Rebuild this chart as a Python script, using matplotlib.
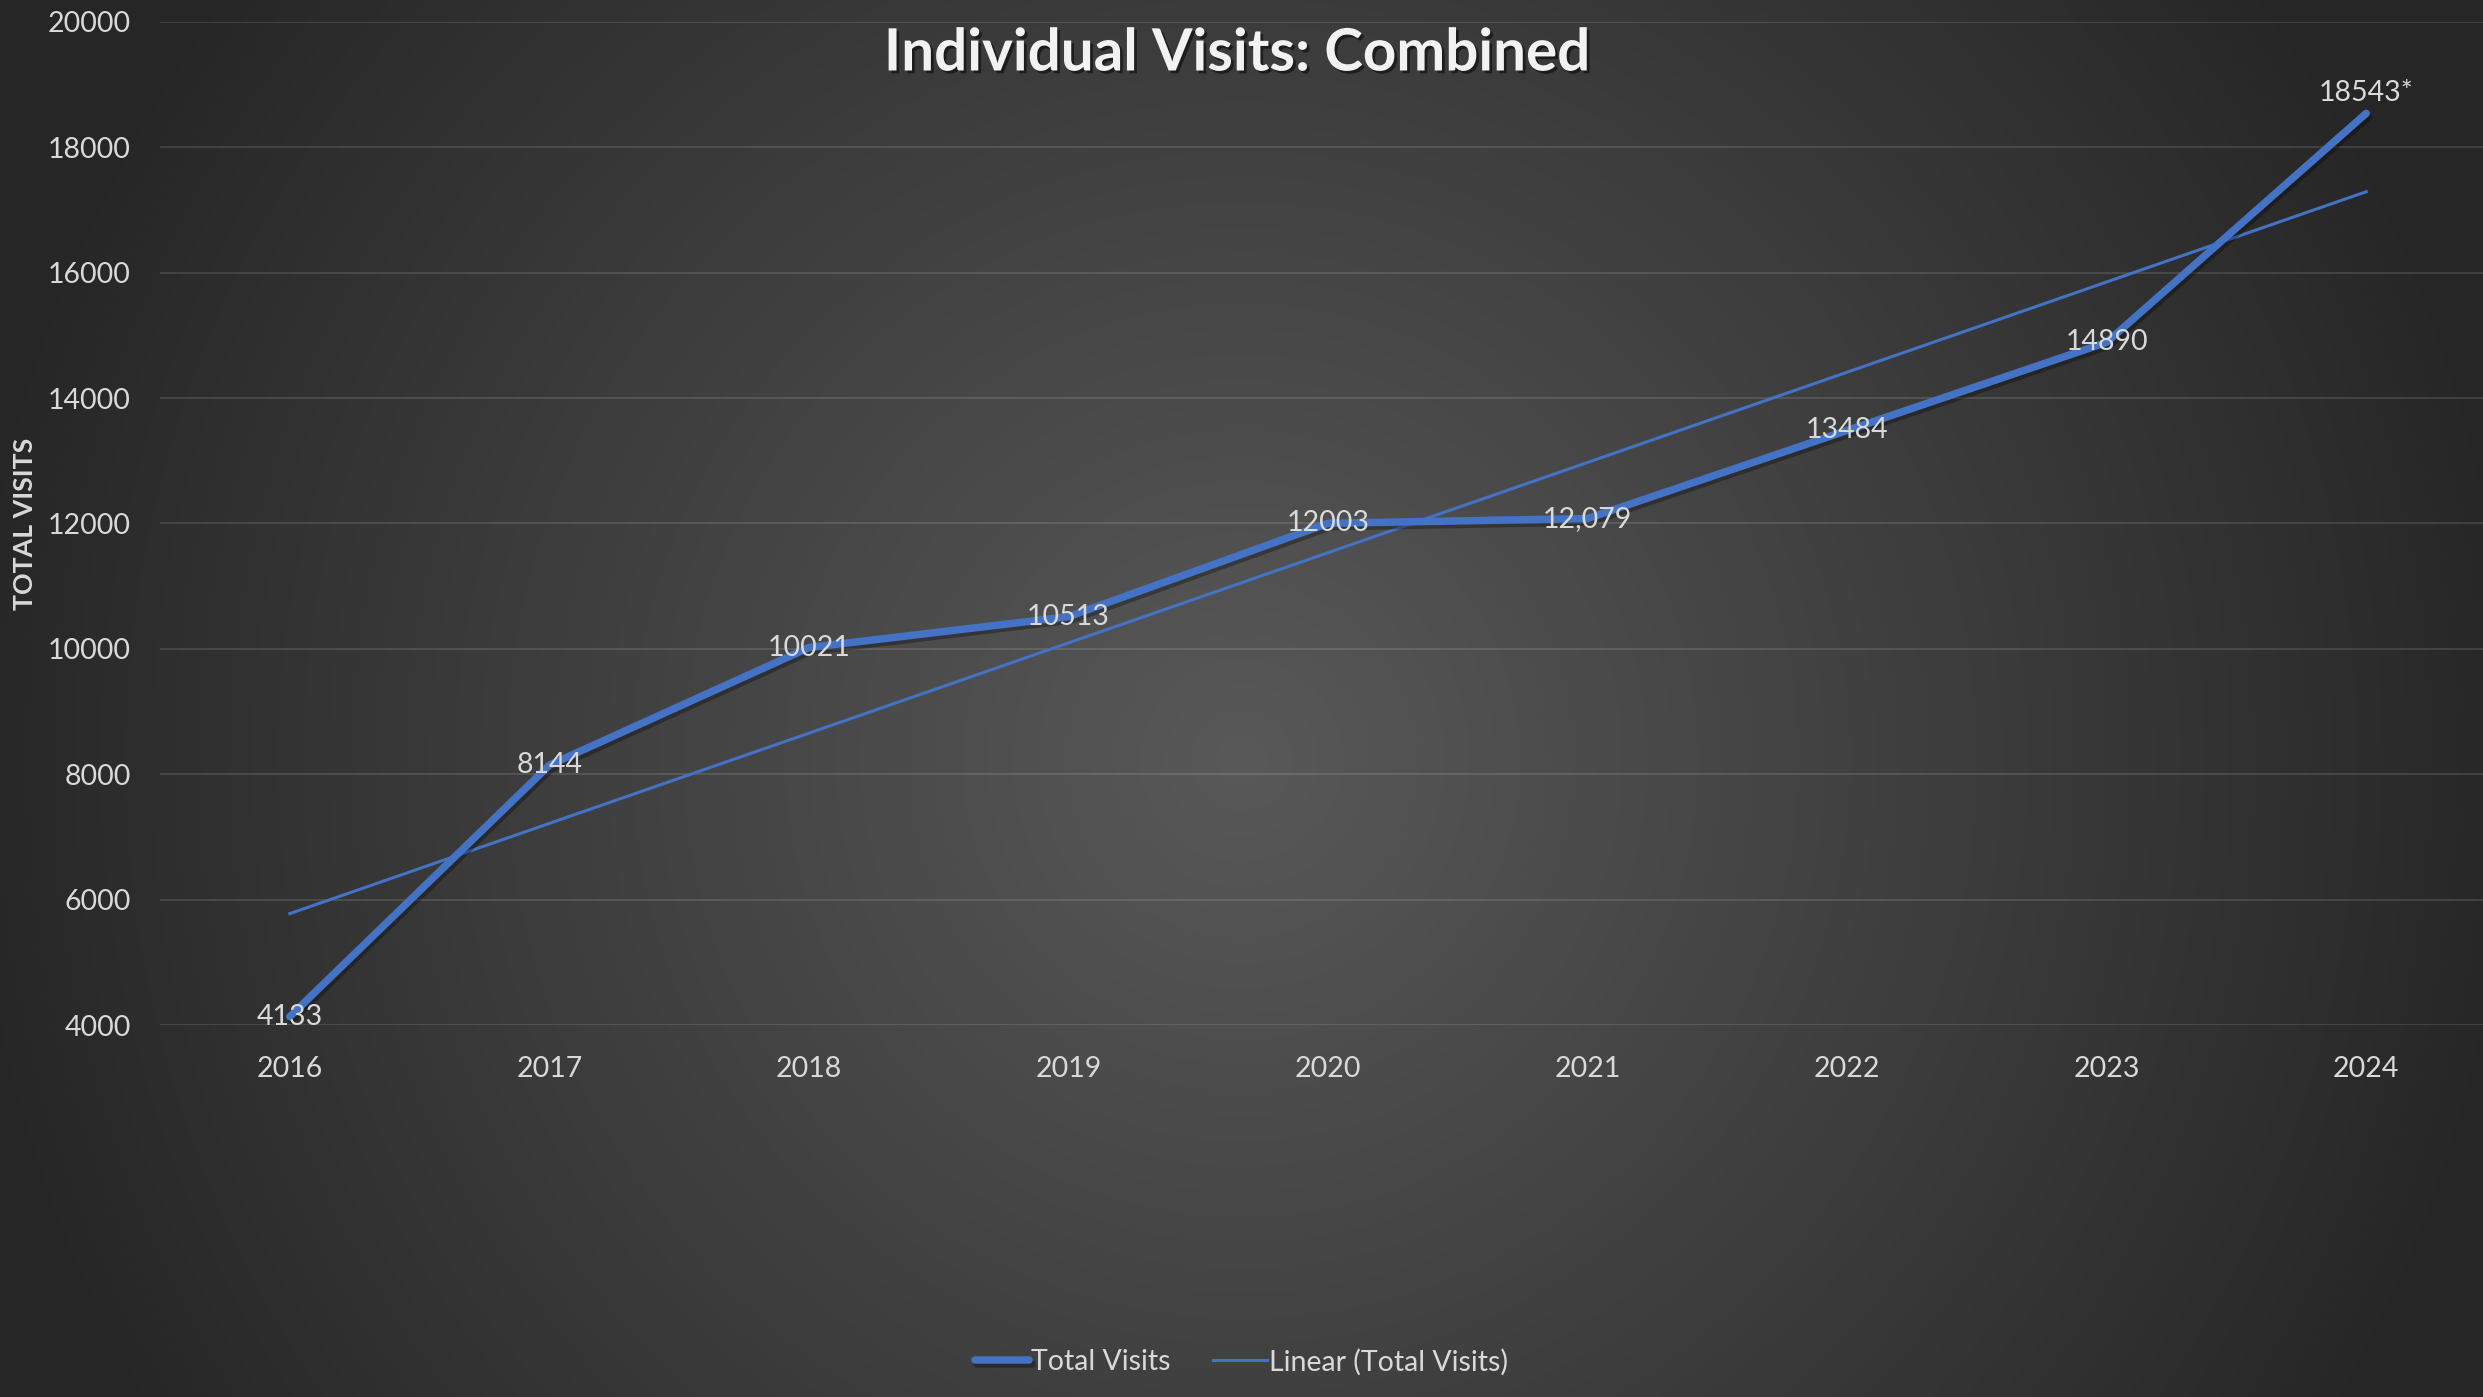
import numpy as np
import matplotlib
matplotlib.use("Agg")
import matplotlib.pyplot as plt
import matplotlib.patheffects as pe

years = ["2016", "2017", "2018", "2019", "2020", "2021", "2022", "2023", "2024"]
visits = [4133, 8144, 10021, 10513, 12003, 12079, 13484, 14890, 18543]
point_labels = ["4133", "8144", "10021", "10513", "12003", "12,079", "13484", "14890", "18543*"]

plt.rcParams['font.family'] = ['Lato', 'DejaVu Sans']
txt = '#D9D9D9'
blue = '#4472C4'

W, H = 2483, 1397
fig = plt.figure(figsize=(W / 100, H / 100), dpi=100)

# radial gradient background
bg = fig.add_axes([0, 0, 1, 1])
yy, xx = np.mgrid[0:H, 0:W]
r = np.hypot(xx - 1241, yy - 760) / 1420
v = np.clip(89 - 56 * r, 38, 89) / 255
bg.imshow(np.dstack([v, v, v]), aspect='auto', extent=(0, 1, 0, 1), origin='upper')
bg.axis('off')

ax = fig.add_axes([160 / W, 1 - 1025 / H, 2336 / W, (1025 - 22) / H])
ax.set_facecolor('none')
x = np.arange(len(years))

ax.plot(x, visits, color=blue, lw=5.4, solid_capstyle='round', label='Total Visits', zorder=3,
        path_effects=[pe.SimpleLineShadow(offset=(1.5, -2.5), alpha=0.3, shadow_color='black'), pe.Normal()])

coef = np.polyfit(x, visits, 1)
ax.plot(x, np.polyval(coef, x), color=blue, lw=2.2, label='Linear (Total Visits)', zorder=2)

for i, (val, lab) in enumerate(zip(visits, point_labels)):
    if i == len(visits) - 1:
        ax.annotate(lab, (i, val), xytext=(0, 5), textcoords='offset points',
                    ha='center', va='bottom', color=txt, fontsize=20.5, zorder=4)
    else:
        ax.text(i, val, lab, ha='center', va='center', color=txt, fontsize=20.5, zorder=4)

ax.set_xlim(-0.5, len(years) - 0.5)
ax.set_ylim(4000, 20000)
ax.set_yticks(np.arange(4000, 20001, 2000))
ax.set_xticks(x)
ax.set_xticklabels(years)
ax.tick_params(colors=txt, labelsize=20.5, length=0)
ax.tick_params(axis='x', pad=22)
ax.tick_params(axis='y', pad=21)
ax.grid(axis='y', color='white', alpha=0.13, lw=1.3)
for s in ax.spines.values():
    s.set_visible(False)

fig.text(13 / W, 1 - 524 / H, 'TOTAL VISITS', rotation=90, ha='left', va='center',
         color=txt, fontsize=19.3, fontweight='bold')

fig.text(1237 / W, 1 - 54 / H, 'Individual Visits: Combined', ha='center', va='center',
         color='#F2F2F2', fontsize=42, fontweight='bold',
         path_effects=[pe.SimplePatchShadow(offset=(2, -2), alpha=0.5, shadow_rgbFace='black'), pe.Normal()])

leg = fig.legend(loc='center', bbox_to_anchor=(0.5, 1 - 1362 / H), ncol=2, frameon=False,
                 fontsize=20.5, labelcolor=txt, handlelength=1.9, handletextpad=0.05, columnspacing=1.5)

fig.savefig('out.png', dpi=100)
